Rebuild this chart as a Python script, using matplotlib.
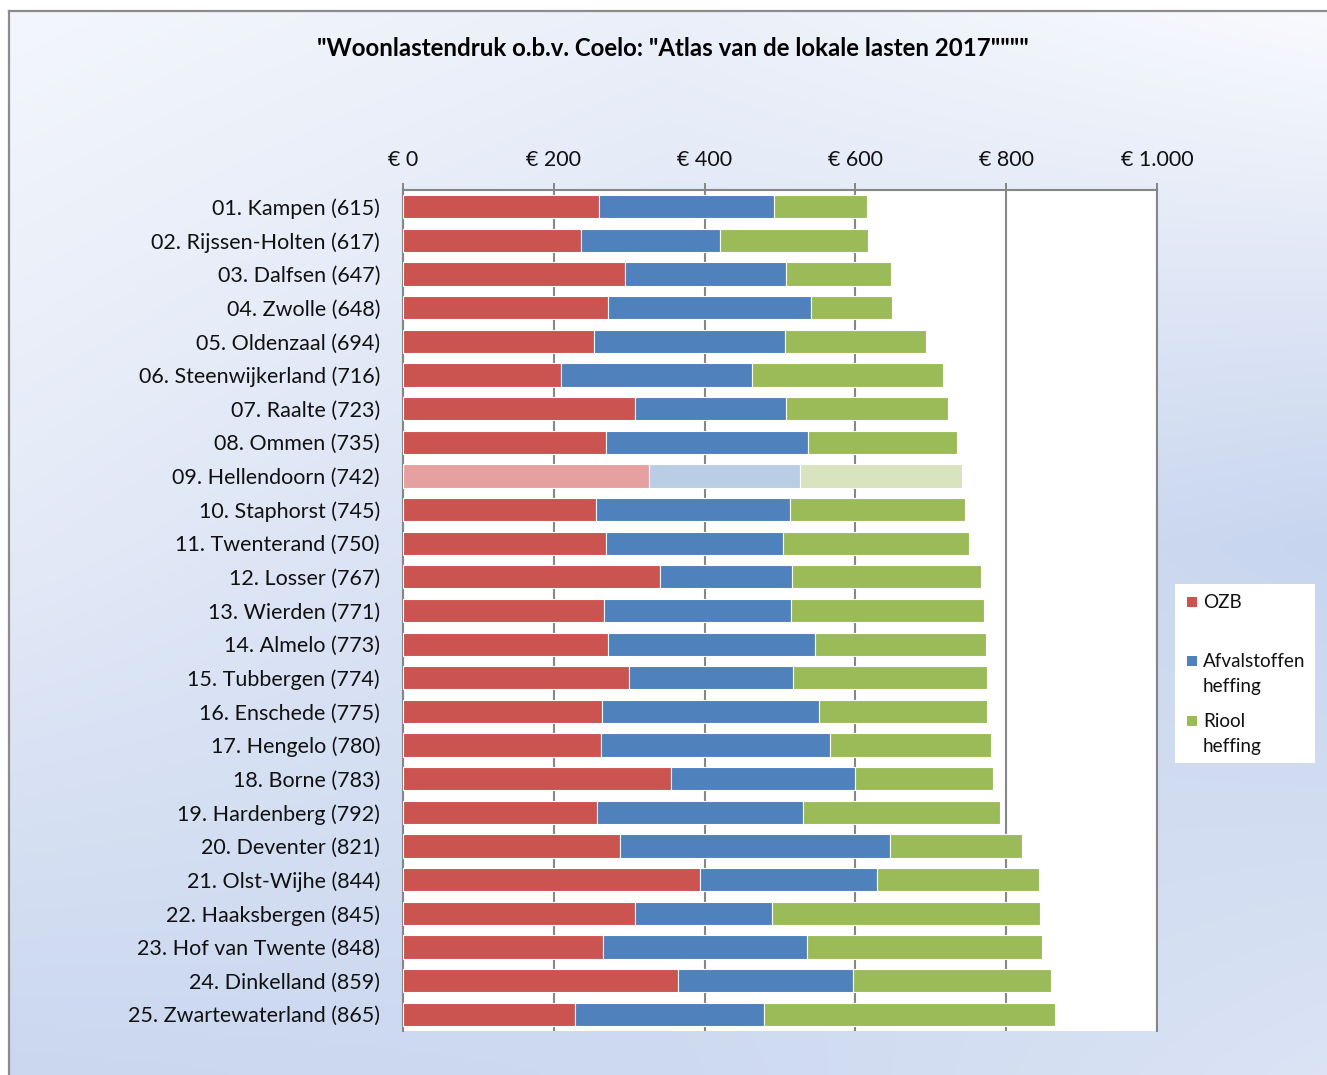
import numpy as np
import matplotlib
matplotlib.use("Agg")
import matplotlib.pyplot as plt
from matplotlib.patches import Rectangle
from matplotlib.lines import Line2D
from matplotlib.ticker import FuncFormatter

plt.rcParams['font.family'] = ['Lato', 'DejaVu Sans']

# ---------------- data ----------------
gemeenten = ["Kampen", "Rijssen-Holten", "Dalfsen", "Zwolle", "Oldenzaal",
             "Steenwijkerland", "Raalte", "Ommen", "Hellendoorn", "Staphorst",
             "Twenterand", "Losser", "Wierden", "Almelo", "Tubbergen",
             "Enschede", "Hengelo", "Borne", "Hardenberg", "Deventer",
             "Olst-Wijhe", "Haaksbergen", "Hof van Twente", "Dinkelland",
             "Zwartewaterland"]
totaal = [615, 617, 647, 648, 694, 716, 723, 735, 742, 745, 750, 767, 771,
          773, 774, 775, 780, 783, 792, 821, 844, 845, 848, 859, 865]
ozb = [260, 236, 294, 272, 253, 210, 308, 269, 326, 256, 269, 341, 267,
       272, 300, 264, 263, 355, 257, 288, 394, 308, 265, 365, 228]
afval = [232, 184, 214, 269, 254, 253, 200, 268, 201, 257, 235, 175, 248,
         274, 217, 288, 303, 245, 274, 358, 235, 181, 271, 232, 251]
riool = [123, 197, 139, 107, 187, 253, 215, 198, 215, 232, 246, 251, 256,
         227, 257, 223, 214, 183, 261, 175, 215, 356, 312, 262, 386]
series_names = ["OZB", "Afvalstoffen\nheffing", "Riool\nheffing"]
series_colors = ["#CB5350", "#4F81BD", "#9BBB59"]
faded_colors = ["#E6A09F", "#B9CDE5", "#D7E4BD"]
highlight = "Hellendoorn"
x_ticks = [0, 200, 400, 600, 800, 1000]
title = '"Woonlastendruk o.b.v. Coelo: "Atlas van de lokale lasten 2017""""'

labels = [f"{i + 1:02d}. {g} ({t})" for i, (g, t) in enumerate(zip(gemeenten, totaal))]

# ---------------- figure ----------------
W, H = 1327, 1075
fig = plt.figure(figsize=(W / 100, H / 100), dpi=100)
fig.patch.set_facecolor("white")

# background gradient
bg = fig.add_axes([0, 0, 1, 1], zorder=-10)
bg.set_xlim(0, W)
bg.set_ylim(H, 0)
bg.axis("off")
ctrl = np.array([[0.12, 0.28, 0.03],
                 [0.40, 0.65, 0.90],
                 [0.85, 0.80, 0.55]])
gw, gh = 133, 108
u = np.linspace(0, 1, gw)
v = np.linspace(0, 1, gh)
cols = np.array([np.interp(v, [0, 0.5, 1], ctrl[:, j]) for j in range(3)])
t = np.array([np.interp(u, [0, 0.5, 1], cols[:, i]) for i in range(gh)])
white = np.array([250, 251, 254]) / 255
blue = np.array([194, 209, 237]) / 255
img = white[None, None, :] * (1 - t[..., None]) + blue[None, None, :] * t[..., None]
bg.imshow(img, extent=[9, W, H, 11], aspect="auto", interpolation="bicubic")
bg.add_line(Line2D([9, 9], [11, H], color="#8C8C8C", lw=1.6))
bg.add_line(Line2D([9, W], [11, 11], color="#8C8C8C", lw=1.6))

# main axes
L, R, T, B = 403, 1157, 190, 1031
ax = fig.add_axes([L / W, 1 - B / H, (R - L) / W, (B - T) / H])
ax.set_facecolor("white")

y = np.arange(len(gemeenten))
left = np.zeros(len(gemeenten))
for k, vals in enumerate([ozb, afval, riool]):
    cols_k = [faded_colors[k] if g == highlight else series_colors[k] for g in gemeenten]
    ax.barh(y, vals, left=left, height=0.69, color=cols_k, edgecolor="white",
            linewidth=0.8, zorder=3)
    left = left + np.array(vals)

ax.set_ylim(len(gemeenten) - 0.5, -0.5)
ax.set_xlim(0, 1000)
ax.set_yticks(y)
ax.set_yticklabels(labels, fontsize=15.5, color="#111111")
ax.tick_params(axis="y", length=0, pad=16.5)
ax.xaxis.tick_top()
ax.set_xticks(x_ticks)
ax.xaxis.set_major_formatter(FuncFormatter(lambda v_, p: "€ " + f"{int(v_):,}".replace(",", ".")))
ax.tick_params(axis="x", direction="out", length=5, width=1.4, color="#868686",
               pad=9.5, labelsize=15.5, labelcolor="#111111")
ax.grid(axis="x", color="#868686", lw=1.5, zorder=1)
for s in ["top", "left", "right"]:
    ax.spines[s].set_color("#868686")
    ax.spines[s].set_linewidth(1.5)
ax.spines["bottom"].set_visible(False)

# title
fig.text(673 / W, 1 - 48 / H, title, ha="center", va="center",
         fontsize=17.3, fontweight="bold", color="black")

# legend (drawn manually to mimic Excel's layout)
bg.add_patch(Rectangle((1175, 584), 140, 179, facecolor="white", edgecolor="none", zorder=2))
leg_y = [602, 661, 721]
for k in range(3):
    bg.add_patch(Rectangle((1187, leg_y[k] - 5), 10, 10, facecolor=series_colors[k],
                           edgecolor="none", zorder=3))
    bg.text(1203, leg_y[k] - 8, series_names[k], ha="left", va="top",
            fontsize=13.6, color="#111111", linespacing=1.55, zorder=3)

fig.savefig("out.png", dpi=100)
